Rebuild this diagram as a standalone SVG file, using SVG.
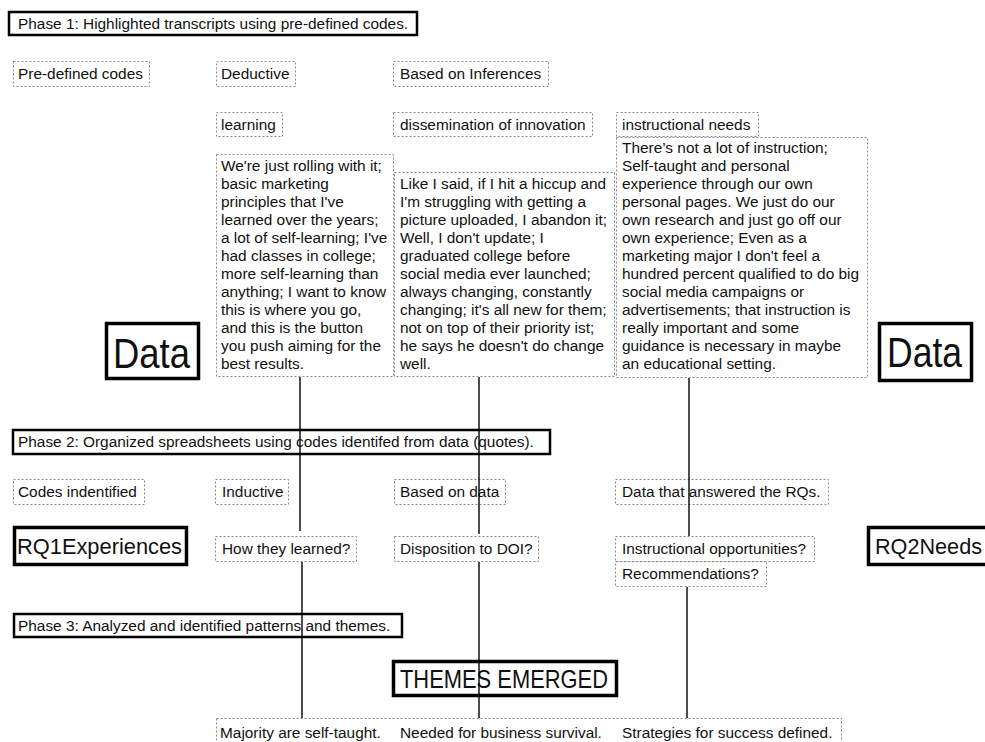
<svg xmlns="http://www.w3.org/2000/svg" width="985" height="742" viewBox="0 0 985 742">
<style>
text{font-family:"Liberation Sans",Arial,sans-serif;fill:#111;}
.s{font-size:15.4px;}
.d{fill:none;stroke:#8a8a8a;stroke-width:1;stroke-dasharray:2 2;}
.ph{fill:#fff;stroke:#000;stroke-width:2.5;}
.big{fill:#fff;stroke:#000;stroke-width:3.5;}
.bt{font-size:26px;}
.c{stroke:#000;stroke-width:1.4;fill:none;}
</style>
<rect width="985" height="742" fill="#fff"/>

<g id="phase1"><rect class="ph" x="9" y="12" width="408" height="23"/><text class="s" x="18" y="29">Phase 1: Highlighted transcripts using pre-defined codes.</text></g>

<g id="predefined"><rect class="d" x="13.5" y="61.5" width="136" height="25"/><text class="s" x="18" y="79">Pre-defined codes</text></g>
<g id="deductive"><rect class="d" x="216.5" y="61.5" width="79" height="25"/><text class="s" x="221" y="79">Deductive</text></g>
<g id="inferences"><rect class="d" x="393.5" y="61.5" width="155" height="25"/><text class="s" x="400" y="79">Based on Inferences</text></g>

<g id="learning"><rect class="d" x="216.5" y="112.5" width="66" height="24"/><text class="s" x="221" y="130">learning</text></g>
<g id="dissemination"><rect class="d" x="393.5" y="112.5" width="199" height="24"/><text class="s" x="400" y="130">dissemination of innovation</text></g>
<g id="needs"><rect class="d" x="616.5" y="112.5" width="142" height="24"/><text class="s" x="622" y="130">instructional needs</text></g>

<g id="quote1"><rect class="d" x="216.5" y="154.5" width="177" height="222"/>
<text class="s" x="221" y="171">We're just rolling with it;<tspan x="221" dy="18">basic marketing</tspan><tspan x="221" dy="18">principles that I've</tspan><tspan x="221" dy="18">learned over the years;</tspan><tspan x="221" dy="18">a lot of self-learning; I've</tspan><tspan x="221" dy="18">had classes in college;</tspan><tspan x="221" dy="18">more self-learning than</tspan><tspan x="221" dy="18">anything; I want to know</tspan><tspan x="221" dy="18">this is where you go,</tspan><tspan x="221" dy="18">and this is the button</tspan><tspan x="221" dy="18">you push aiming for the</tspan><tspan x="221" dy="18">best results.</tspan></text></g>

<g id="quote2"><rect class="d" x="394.5" y="172.5" width="220" height="204"/>
<text class="s" x="400" y="189">Like I said, if I hit a hiccup and<tspan x="400" dy="18">I'm struggling with getting a</tspan><tspan x="400" dy="18">picture uploaded, I abandon it;</tspan><tspan x="400" dy="18">Well, I don't update; I</tspan><tspan x="400" dy="18">graduated college before</tspan><tspan x="400" dy="18">social media ever launched;</tspan><tspan x="400" dy="18">always changing, constantly</tspan><tspan x="400" dy="18">changing; it's all new for them;</tspan><tspan x="400" dy="18">not on top of their priority ist;</tspan><tspan x="400" dy="18">he says he doesn't do change</tspan><tspan x="400" dy="18">well.</tspan></text></g>

<g id="quote3"><rect class="d" x="616.5" y="137.5" width="251" height="240"/>
<text class="s" x="622" y="153">There’s not a lot of instruction;<tspan x="622" dy="18">Self-taught and personal</tspan><tspan x="622" dy="18">experience through our own</tspan><tspan x="622" dy="18">personal pages. We just do our</tspan><tspan x="622" dy="18">own research and just go off our</tspan><tspan x="622" dy="18">own experience; Even as a</tspan><tspan x="622" dy="18">marketing major I don't feel a</tspan><tspan x="622" dy="18">hundred percent qualified to do big</tspan><tspan x="622" dy="18">social media campaigns or</tspan><tspan x="622" dy="18">advertisements; that instruction is</tspan><tspan x="622" dy="18">really important and some</tspan><tspan x="622" dy="18">guidance is necessary in maybe</tspan><tspan x="622" dy="18">an educational setting.</tspan></text></g>

<g id="dataLeft"><rect class="big" x="106.5" y="323.5" width="92" height="55"/><text x="113" y="368" font-size="42" textLength="77" lengthAdjust="spacingAndGlyphs">Data</text></g>
<g id="dataRight"><rect class="big" x="879.5" y="323.5" width="92" height="57"/><text x="887" y="367" font-size="42" textLength="75" lengthAdjust="spacingAndGlyphs">Data</text></g>

<g id="phase2"><rect class="ph" x="13" y="430" width="537" height="24"/><text class="s" x="18" y="447">Phase 2: Organized spreadsheets using codes identifed from data (quotes).</text></g>

<g id="codesIdentified"><rect class="d" x="13.5" y="479.5" width="131" height="25"/><text class="s" x="18" y="497">Codes indentified</text></g>
<g id="inductive"><rect class="d" x="215.5" y="479.5" width="73" height="25"/><text class="s" x="222" y="497">Inductive</text></g>
<g id="basedOnData"><rect class="d" x="394.5" y="479.5" width="111" height="25"/><text class="s" x="400" y="497">Based on data</text></g>
<g id="answered"><rect class="d" x="615.5" y="479.5" width="213" height="25"/><text class="s" x="622" y="497">Data that answered the RQs.</text></g>

<g id="rq1"><rect class="big" x="14.5" y="527.5" width="172" height="37"/><text x="17" y="554" font-size="22" textLength="165" lengthAdjust="spacingAndGlyphs">RQ1Experiences</text></g>
<g id="learned"><rect class="d" x="215.5" y="536.5" width="141" height="25"/><text class="s" x="222" y="554">How they learned?</text></g>
<g id="doi"><rect class="d" x="394.5" y="536.5" width="144" height="25"/><text class="s" x="400" y="554">Disposition to DOI?</text></g>
<g id="instrOpp"><rect class="d" x="615.5" y="536.5" width="199" height="25"/><text class="s" x="622" y="554">Instructional opportunities?</text></g>
<g id="recommend"><rect class="d" x="615.5" y="561.5" width="151" height="25"/><text class="s" x="622" y="579">Recommendations?</text></g>
<g id="rq2"><rect class="big" x="868.5" y="527.5" width="125" height="37"/><text x="875" y="554" font-size="22" textLength="107" lengthAdjust="spacingAndGlyphs">RQ2Needs</text></g>

<g id="phase3"><rect class="ph" x="14" y="614" width="388" height="23"/><text class="s" x="18" y="631">Phase 3: Analyzed and identified patterns and themes.</text></g>

<g id="themes"><rect class="big" x="393.5" y="661.5" width="223" height="34"/><text class="bt" x="400" y="688" textLength="208" lengthAdjust="spacingAndGlyphs">THEMES EMERGED</text></g>

<g id="results"><rect class="d" x="216.5" y="718.5" width="625" height="30"/><text class="s" y="738"><tspan x="220">Majority are self-taught.</tspan><tspan x="400">Needed for business survival.</tspan><tspan x="622">Strategies for success defined.</tspan></text></g>

<g id="connectors">
<line class="c" x1="300" y1="377" x2="300" y2="531"/>
<line class="c" x1="479" y1="377" x2="479" y2="534"/>
<line class="c" x1="689" y1="378" x2="689" y2="536"/>
<line class="c" x1="302" y1="562" x2="302" y2="718"/>
<line class="c" x1="479" y1="562" x2="479" y2="718"/>
<line class="c" x1="687" y1="587" x2="687" y2="718"/>
</g>
</svg>
